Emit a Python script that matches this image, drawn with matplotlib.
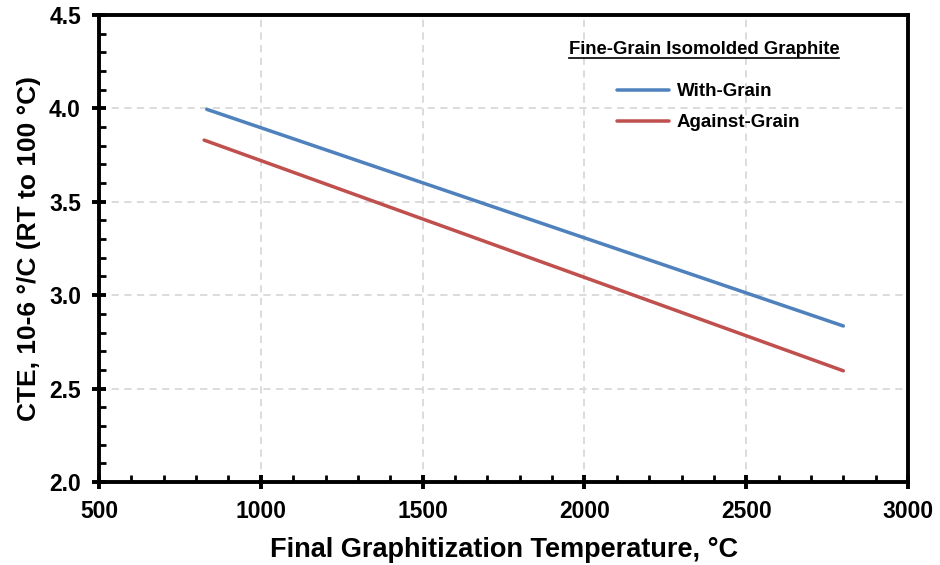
import matplotlib
matplotlib.use("Agg")
import matplotlib.pyplot as plt
from matplotlib.ticker import MultipleLocator
from matplotlib.lines import Line2D

plt.rcParams['font.family'] = ['Liberation Sans', 'DejaVu Sans']
plt.rcParams['font.weight'] = 'bold'

# Linear CTE trends vs. final graphitization temperature
temp_with = [833, 2800]
cte_with = [3.995, 2.835]
temp_against = [825, 2800]
cte_against = [3.83, 2.595]

series_names = ["With-Grain", "Against-Grain"]
legend_title = "Fine-Grain Isomolded Graphite"
x_label = "Final Graphitization Temperature, °C"
y_label = "CTE, 10-6 °/C (RT to 100 °C)"

fig = plt.figure(figsize=(9.4, 5.65), dpi=100)
ax = fig.add_axes([0.1053, 0.147, 0.8607, 0.8265])

lw_px = 3.5 * 72 / 100
ax.plot(temp_with, cte_with, color="#4F81BD", lw=lw_px, solid_capstyle="round",
        label=series_names[0])
ax.plot(temp_against, cte_against, color="#C0504D", lw=lw_px, solid_capstyle="round",
        label=series_names[1])

ax.set_xlim(500, 3000)
ax.set_ylim(2.0, 4.5)
ax.xaxis.set_major_locator(MultipleLocator(500))
ax.xaxis.set_minor_locator(MultipleLocator(100))
ax.yaxis.set_major_locator(MultipleLocator(0.5))
ax.yaxis.set_minor_locator(MultipleLocator(0.1))
ax.yaxis.set_major_formatter(plt.FuncFormatter(lambda v, p: f"{v:.1f}"))

ax.grid(True, which="major", color="#D9D9D9", linestyle=(0, (4, 3)), lw=1.3)
ax.set_axisbelow(True)

for s in ax.spines.values():
    s.set_linewidth(2.8)
ax.tick_params(which="major", direction="inout", length=10, width=2.8,
               labelsize=16.5, pad=8)
ax.tick_params(which="minor", direction="in", length=5, width=2.0)
ax.tick_params(top=False, right=False, which="both")
for lab in ax.get_xticklabels() + ax.get_yticklabels():
    lab.set_fontweight("bold")

ax.set_xlabel(x_label, fontsize=19.5, fontweight="bold", labelpad=10)
ax.set_ylabel(y_label, fontsize=19, fontweight="bold", labelpad=6)

leg = ax.legend(loc="upper left", bbox_to_anchor=(0.640, 0.854), frameon=False,
                borderpad=0, borderaxespad=0, handlelength=2.8,
                handletextpad=0.4, labelspacing=0.75,
                prop={"weight": "bold", "size": 13.5})

title = ax.text(0.748, 0.925, legend_title, transform=ax.transAxes, ha="center",
                va="center", fontsize=13.3, fontweight="bold")

# underline the legend heading
fig.canvas.draw()
bb = title.get_window_extent().transformed(fig.transFigure.inverted())
fig.add_artist(Line2D([bb.x0, bb.x1], [bb.y0 + 0.001, bb.y0 + 0.001],
                      transform=fig.transFigure, color="black", lw=1.2))

fig.savefig("out.png", dpi=100)
